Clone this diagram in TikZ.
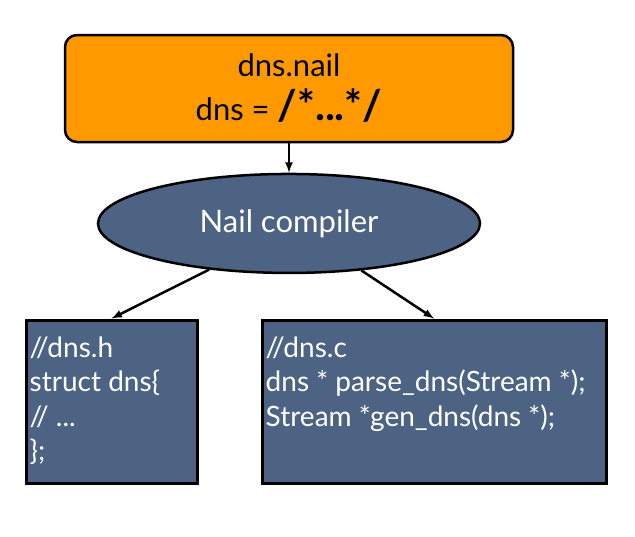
\documentclass[tikz,border=0pt]{standalone}
\usepackage{xcolor}
\usepackage{fontspec}
\setmainfont{Lato}
\usepackage{tikz}
\usetikzlibrary{shapes.geometric}

\definecolor{nailorange}{RGB}{254,153,0}
\definecolor{slate}{RGB}{76,99,131}

\begin{document}
\begin{tikzpicture}[x = 1pt, y = -1pt,
                spec/.style={rectangle, draw, line width=2.5pt, rounded corners=12pt, fill=nailorange, minimum width=448pt, minimum height=107pt, align=center, font=\fontsize{31}{44}\selectfont},
                compiler/.style={ellipse, draw, line width=2.5pt, fill=slate, text=white, minimum width=382pt, minimum height=99pt, font=\fontsize{31}{34}\selectfont},
                codebox/.style={rectangle, draw, line width=3pt, fill=slate, minimum height=163pt},
                code/.style={anchor=north west, inner sep=0pt, text=white, align=left, font=\fontsize{28}{34.5}\selectfont},
                paths/.style={->, line width=2.5pt, -latex}
            ]
                \useasboundingbox (0,0) rectangle (635,536);

                % Nodes
                \node[spec] (nail) at (289,88.5) {dns.nail\\dns = {\fontsize{42}{44}\selectfont\bfseries /*...*/}};
                \node[compiler, below of = nail, yshift = -106.5pt] (nailc) {Nail compiler};

                \node[codebox, minimum width=171pt] (hfile) at (111.5,401.5) {};
                \node[codebox, minimum width=344pt] (cfile) at (434,401.5) {};

                % Code in the boxes
                \node[code] (htext) at ([xshift = 5pt, yshift = -18pt]hfile.north west) {//dns.h\\struct dns\{\\// ...\\\};};
                \node[code] (ctext) at ([xshift = 5pt, yshift = -18pt]cfile.north west) {//dns.c\\dns * parse\_dns(Stream *);\\Stream *gen\_dns(dns *);};

                % Paths
                \draw[paths] (nail) -- (nailc);
                \draw[paths] (nailc.210) -- (hfile.north);
                \draw[paths] (nailc.-33) -- (cfile.north);
            \end{tikzpicture}
\end{document}
